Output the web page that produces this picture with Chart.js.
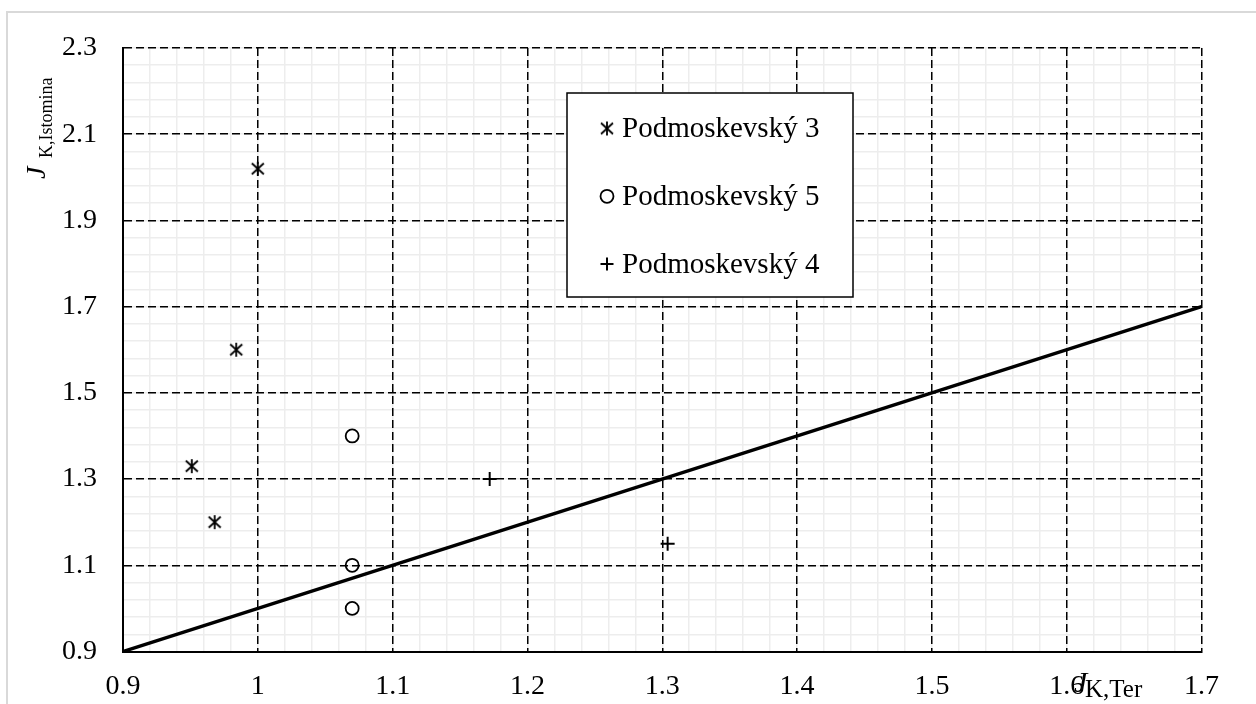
<!DOCTYPE html>
<html>
<head>
<meta charset="utf-8">
<script src="https://cdn.jsdelivr.net/npm/chart.js@4.4.1/dist/chart.umd.min.js"></script>
<style>
  html, body { margin: 0; padding: 0; background: #fff; overflow: hidden; }
  #frame { position: absolute; left: 6px; top: 11px; width: 1300px; height: 800px;
           border-left: 2px solid #d9d9d9; border-top: 2px solid #d9d9d9; }
  #wrap { position: absolute; left: 0; top: 0; width: 1256px; height: 704px; }
</style>
</head>
<body>
<div id="frame"></div>
<div id="wrap"><canvas id="chart"></canvas></div>
<script>
// values
const p3X = [1.0, 0.984, 0.951, 0.968];
const p3Y = [2.02, 1.60, 1.33, 1.20];
const p5X = [1.07, 1.07, 1.07];
const p5Y = [1.40, 1.10, 1.00];
const p4X = [1.172, 1.304];
const p4Y = [1.30, 1.15];
const lineX = [0.9, 1.7];
const lineY = [0.9, 1.7];
const seriesNames = ['Podmoskevský 3', 'Podmoskevský 5', 'Podmoskevský 4'];
const xTicks = [0.9, 1.0, 1.1, 1.2, 1.3, 1.4, 1.5, 1.6, 1.7];
const yTicks = [0.9, 1.1, 1.3, 1.5, 1.7, 1.9, 2.1, 2.3];

const serif = "'Liberation Serif', 'Times New Roman', serif";

function pts(xs, ys){
    return xs.map((x, i) => ({ x: x, y: ys[i] }));
}

// minor grid positions (style only)
function steps(from, to, step){
    const out = [];
    for (let v = from; v <= to + 1e-9; v += step) out.push({ value: +v.toFixed(4) });
    return out;
}

function fmt(v){
    return String(Number(v.toFixed(2)));
}

// asterisk marker: x with a vertical bar
function makeAsterisk(){
    const c = document.createElement('canvas');
    c.width = 16; c.height = 16;
    const g = c.getContext('2d');
    g.strokeStyle = '#000';
    g.lineWidth = 1.8;
    g.beginPath();
    g.moveTo(2, 2.5); g.lineTo(14, 13.5);
    g.moveTo(14, 2.5); g.lineTo(2, 13.5);
    g.moveTo(8, 1); g.lineTo(8, 15);
    g.stroke();
    return c;
}
const asterisk = makeAsterisk();

// legend box + axis titles
const extras = {
    id: 'extras',
    afterDatasetsDraw(chart){
        const c = chart.ctx;
        const box = { left: 567, top: 93, right: 853, bottom: 297 };
        const rows = [128.5, 196.3, 264];
        c.save();
        c.fillStyle = '#fff';
        c.fillRect(box.left, box.top, box.right - box.left, box.bottom - box.top);
        c.strokeStyle = '#000';
        c.lineWidth = 1.5;
        c.strokeRect(box.left, box.top, box.right - box.left, box.bottom - box.top);
        chart.data.datasets.slice(0, 3).forEach((ds, i) => {
            c.strokeStyle = '#000';
            c.fillStyle = 'rgba(0,0,0,0)';
            c.lineWidth = ds.borderWidth || 2;
            Chart.helpers.drawPoint(c, { pointStyle: ds.pointStyle, radius: 6.5, borderWidth: c.lineWidth, rotation: 0 }, 607, rows[i]);
            c.fillStyle = '#000';
            c.font = '29px ' + serif;
            c.textBaseline = 'alphabetic';
            c.textAlign = 'left';
            c.fillText(ds.label, 622, rows[i] + 8.5);
        });
        c.restore();
    },
    afterDraw(chart){
        const c = chart.ctx;
        c.save();
        c.textBaseline = 'alphabetic';
        c.textAlign = 'left';
        c.fillStyle = '#000';

        // x title, sits right on top of the 1.6 label like the original
        c.font = 'italic 30px ' + serif;
        c.fillText('J', 1074, 692);
        c.font = '25px ' + serif;
        c.fillText('K,Ter', 1085, 697);

        // y title (rotated)
        c.translate(45, 179);
        c.rotate(-Math.PI / 2);
        c.font = 'italic 28px ' + serif;
        c.fillText('J', 0, 0);
        c.font = '18px ' + serif;
        c.fillText('K,Istomina', 21, 7);
        c.restore();
    }
};

const ctx = document.getElementById('chart');

new Chart(ctx, {
    type: 'scatter',
    data: {
        datasets: [
            {
                label: seriesNames[0],
                data: pts(p3X, p3Y),
                pointStyle: asterisk,
                pointRadius: 7,
                borderWidth: 2,
                borderColor: '#000',
                backgroundColor: 'rgba(0,0,0,0)'
            },
            {
                label: seriesNames[1],
                data: pts(p5X, p5Y),
                pointStyle: 'circle',
                pointRadius: 6.5,
                borderWidth: 1.8,
                borderColor: '#000',
                backgroundColor: 'rgba(0,0,0,0)'
            },
            {
                label: seriesNames[2],
                data: pts(p4X, p4Y),
                pointStyle: 'cross',
                pointRadius: 7,
                borderWidth: 2,
                borderColor: '#000',
                backgroundColor: 'rgba(0,0,0,0)'
            },
            {
                label: 'line',
                data: pts(lineX, lineY),
                showLine: true,
                borderColor: '#000',
                borderWidth: 3.5,
                pointRadius: 0,
                fill: false
            }
        ]
    },
    options: {
        responsive: true,
        maintainAspectRatio: false,
        animation: false,
        events: [],
        layout: {
            padding: { top: 48, right: 54.5, bottom: 0, left: 0 }
        },
        plugins: {
            legend: { display: false },
            tooltip: { enabled: false }
        },
        scales: {
            xMinor: {
                type: 'linear',
                position: 'bottom',
                min: 0.9,
                max: 1.7,
                afterBuildTicks: a => { a.ticks = steps(0.9, 1.7, 0.02); },
                ticks: { display: false },
                grid: { color: '#ededed', lineWidth: 1.5, drawTicks: false, z: -2 },
                border: { display: false }
            },
            yMinor: {
                type: 'linear',
                position: 'left',
                min: 0.9,
                max: 2.3,
                afterBuildTicks: a => { a.ticks = steps(0.9, 2.3, 0.04); },
                ticks: { display: false },
                grid: { color: '#ededed', lineWidth: 1.5, drawTicks: false, z: -2 },
                border: { display: false }
            },
            x: {
                type: 'linear',
                position: 'bottom',
                min: 0.9,
                max: 1.7,
                afterBuildTicks: a => { a.ticks = xTicks.map(v => ({ value: v })); },
                afterFit: s => { s.height = 52.5; },
                ticks: {
                    color: '#000',
                    font: { family: serif, size: 28 },
                    padding: 18,
                    maxRotation: 0,
                    autoSkip: false,
                    callback: v => fmt(v)
                },
                grid: { color: '#000', lineWidth: 1.5, drawTicks: false, z: -1 },
                border: { display: true, color: '#000', width: 2, dash: [8, 4] }
            },
            y: {
                type: 'linear',
                position: 'left',
                min: 0.9,
                max: 2.3,
                afterBuildTicks: a => { a.ticks = yTicks.map(v => ({ value: v })); },
                afterFit: s => { s.width = 123; },
                ticks: {
                    color: '#000',
                    font: { family: serif, size: 28 },
                    padding: 26,
                    autoSkip: false,
                    callback: v => fmt(v)
                },
                grid: { color: '#000', lineWidth: 1.5, drawTicks: false, z: -1 },
                border: { display: true, color: '#000', width: 2, dash: [8, 4] }
            }
        }
    },
    plugins: [extras]
});
</script>
</body>
</html>
